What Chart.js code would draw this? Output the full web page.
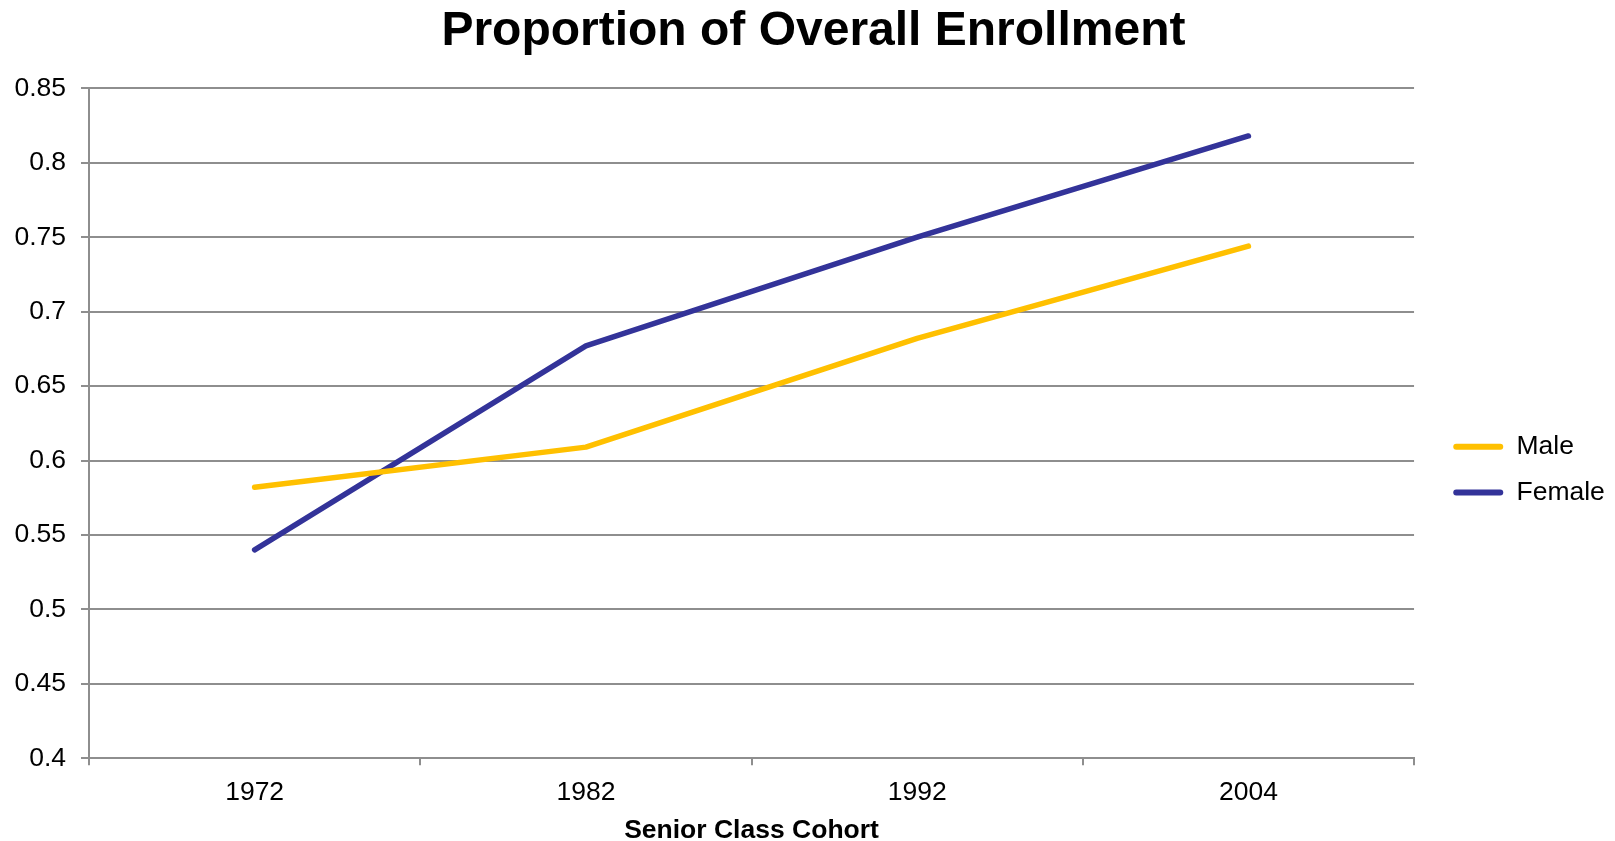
<!DOCTYPE html>
<html>
<head>
<meta charset="utf-8">
<title>Proportion of Overall Enrollment</title>
<script src="https://cdn.jsdelivr.net/npm/chart.js@4.4.1/dist/chart.umd.min.js"></script>
<style>
  html, body { margin: 0; padding: 0; background: #fff; }
  #wrap { width: 1615px; height: 841px; position: relative; }
</style>
</head>
<body>
<div id="wrap"><canvas id="chart"></canvas></div>
<script>
// Senior class cohorts and the share of each group that enrolled
const cohorts = ['1972', '1982', '1992', '2004'];
const maleShare = [0.582, 0.609, 0.682, 0.744];
const femaleShare = [0.540, 0.677, 0.750, 0.818];

// Value axis range
const yMin = 0.4;
const yMax = 0.85;
const yStep = 0.05;

const AXIS_GREY = '#8e8e8e';
Chart.defaults.font.family = "'Liberation Sans', Arial, Helvetica, sans-serif";
Chart.defaults.color = '#000';

function seriesStyle(colour) {
  return {
    borderColor: colour,
    backgroundColor: colour,
    borderWidth: 5.5,
    borderCapStyle: 'round',
    borderJoinStyle: 'round',
    pointRadius: 0,
    pointHoverRadius: 0,
    fill: false,
    tension: 0
  };
}

new Chart(document.getElementById('chart'), {
  type: 'line',
  data: {
    labels: cohorts,
    datasets: [
      Object.assign({ label: 'Male', data: maleShare }, seriesStyle('#FFC000')),
      Object.assign({ label: 'Female', data: femaleShare }, seriesStyle('#333399'))
    ]
  },
  options: {
    responsive: true,
    maintainAspectRatio: false,
    animation: false,
    layout: { padding: { left: 12, right: 0.15, top: 0, bottom: 0 } },
    plugins: {
      title: {
        display: true,
        text: 'Proportion of Overall Enrollment',
        color: '#000',
        font: { size: 48, weight: 'bold', lineHeight: 1 },
        padding: { top: 8.2, bottom: 32.1 }
      },
      legend: {
        position: 'right',
        align: 'center',
        // empty heading pushes the two entries down a little
        title: {
          display: true,
          text: ' ',
          font: { size: 12, lineHeight: 1 },
          padding: { top: 43.15, bottom: 43.15 }
        },
        labels: {
          boxWidth: 50,
          boxHeight: 6,
          padding: 19.2,
          color: '#000',
          font: { size: 26.5 },
          useBorderRadius: true,
          borderRadius: 3,
          generateLabels: chart =>
            Chart.defaults.plugins.legend.labels.generateLabels(chart).map(item =>
              Object.assign(item, { lineWidth: 0, fillStyle: item.strokeStyle }))
        }
      },
      tooltip: { enabled: false }
    },
    scales: {
      x: {
        offset: true,
        grid: { offset: true, drawOnChartArea: false, tickLength: 7, color: AXIS_GREY, lineWidth: 2 },
        border: { color: AXIS_GREY, width: 2 },
        ticks: { color: '#000', font: { size: 26.5, lineHeight: 1 }, padding: 13.95, maxRotation: 0 },
        title: {
          display: true,
          text: 'Senior Class Cohort',
          color: '#000',
          font: { size: 26.5, weight: 'bold', lineHeight: 0.8 },
          padding: { top: 0.1, bottom: 0 }
        }
      },
      y: {
        min: yMin,
        max: yMax,
        grid: { tickLength: 8, color: AXIS_GREY, lineWidth: 2 },
        border: { color: AXIS_GREY, width: 2 },
        ticks: {
          stepSize: yStep,
          color: '#000',
          font: { size: 26.5, lineHeight: 1 },
          padding: 15,
          callback: v => String(parseFloat(Number(v).toFixed(2)))
        },
        afterFit: scale => { scale.width = 77; }
      },
      // blank spacer between the plot and the legend
      gap: {
        type: 'linear',
        position: 'right',
        display: true,
        grid: { display: false },
        border: { display: false },
        ticks: { display: false },
        afterFit: scale => { scale.width = 20; }
      }
    }
  }
});
</script>
</body>
</html>
